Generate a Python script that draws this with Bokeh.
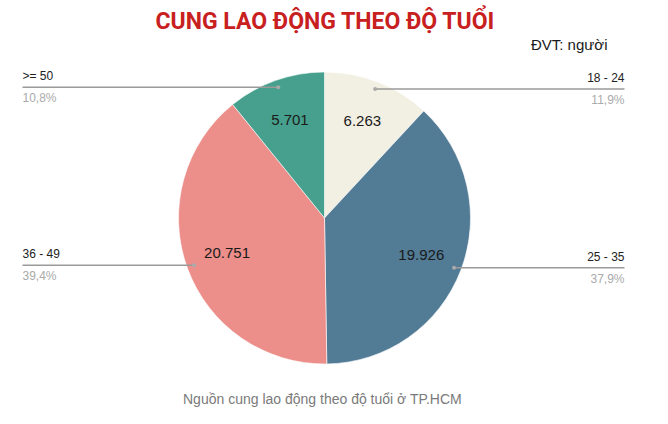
import math
from bokeh.plotting import figure
from bokeh.models import Range1d, ColumnDataSource
from bokeh.core.properties import value
from bokeh.embed import file_html
from bokeh.resources import INLINE

# ---- data ----
categories = ["18 - 24", "25 - 35", "36 - 49", ">= 50"]
values = [6263, 19926, 20751, 5701]
colors = ["#F2EFE3", "#527B95", "#EC8E89", "#46A08D"]
title_text = "CUNG LAO ĐỘNG THEO ĐỘ TUỔI"
unit_text = "ĐVT: người"
caption_text = "Nguồn cung lao động theo độ tuổi ở TP.HCM"

W, H = 652, 408
# reference-pixel coordinates: x as is, y flipped (y_data = 424 - y_px)
def Y(py):
    return 424 - py

p = figure(width=W, height=H, output_backend="svg", toolbar_location=None,
           x_range=Range1d(0, W), y_range=Range1d(Y(H), Y(0)),
           min_border=0)
p.axis.visible = False
p.xgrid.visible = False
p.ygrid.visible = False
p.outline_line_color = None
p.background_fill_color = "white"
p.border_fill_color = "white"

cx, cy, R = 324, Y(217.5), 146
total = sum(values)
starts, ends, mids = [], [], []
cum = 0.0
for v in values:
    a0 = math.pi / 2 - 2 * math.pi * cum / total
    cum += v
    a1 = math.pi / 2 - 2 * math.pi * cum / total
    starts.append(a0)
    ends.append(a1)
    mids.append((a0 + a1) / 2)

src = ColumnDataSource(dict(start=starts, end=ends, color=colors))
p.wedge(x=cx, y=cy, radius=R, start_angle="start", end_angle="end",
        direction="clock", fill_color="color", line_color="white",
        line_width=0.6, source=src)

# value labels inside slices
vx = [cx + 0.71 * R * math.cos(m) for m in mids]
vy = [cy + 0.71 * R * math.sin(m) for m in mids]
vt = [f"{v:,}".replace(",", ".") for v in values]
p.text(x=vx, y=vy, text=vt, text_align="center", text_baseline="middle",
       text_font=value("Liberation Sans"), text_font_size="15px",
       text_color="#1a1a1a")

# leader lines + outside labels
left_x, right_x = 22, 624
for cat, v, m in zip(categories, values, mids):
    dx = cx + 0.95 * R * math.cos(m)
    dy = cy + 0.95 * R * math.sin(m)
    pct = f"{v / total * 100:.1f}%".replace(".", ",")
    if math.cos(m) >= 0:
        ex, align = right_x, "right"
    else:
        ex, align = left_x, "left"
    p.line([dx, ex], [dy, dy], line_color="#9a9a9a", line_width=1.5)
    p.scatter([dx], [dy], size=4, fill_color="#aaaaaa", line_color=None)
    p.text(x=[ex], y=[dy + 4], text=[cat], text_align=align,
           text_baseline="bottom", text_font=value("Liberation Sans"),
           text_font_size="12px", text_color="#222222")
    p.text(x=[ex], y=[dy - 4], text=[pct], text_align=align,
           text_baseline="top", text_font=value("Liberation Sans"),
           text_font_size="12px", text_color="#aaaaaa")

# title, unit, caption
p.text(x=[325], y=[Y(21)], text=[title_text], text_align="center",
       text_baseline="middle", text_font=value("Roboto"),
       text_font_style="bold", text_font_size="23px", text_color="#C8201E")
p.text(x=[607], y=[Y(44)], text=[unit_text], text_align="right",
       text_baseline="middle", text_font=value("Liberation Sans"),
       text_font_size="15px", text_color="#1a1a1a")
p.text(x=[322], y=[Y(398)], text=[caption_text], text_align="center",
       text_baseline="middle", text_font=value("Liberation Sans"),
       text_font_size="14px", text_color="#7a7a7a")

open("out.html", "w").write(file_html(p, INLINE))
